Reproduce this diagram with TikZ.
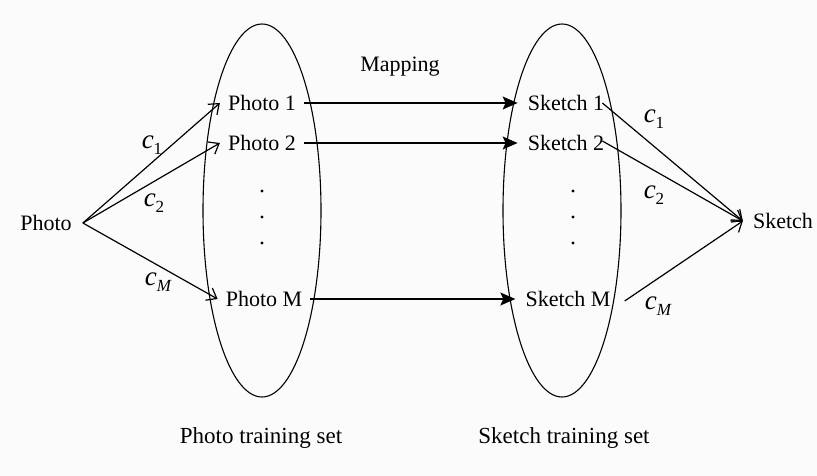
\documentclass[tikz,border=0pt]{standalone}
\usepackage{fontspec}
\setmainfont{Liberation Serif}
\usetikzlibrary{arrows.meta,shapes.geometric}
\definecolor{bg}{RGB}{251,251,251}
\tikzset{
  lbl/.style={inner sep=0pt, font=\fontsize{22}{26}\selectfont},
  biglbl/.style={inner sep=0pt, font=\fontsize{23}{27}\selectfont},
  cl/.style={inner sep=0pt, font=\fontsize{27}{30}\selectfont},
  setell/.style={draw, ellipse, line width=1.1pt, minimum width=118pt, minimum height=373pt, inner sep=0pt},
  wline/.style={line width=1.2pt},
  openarr/.style={wline, -{Straight Barb[length=9pt,width=14pt,line width=1.2pt]}},
  filarr/.style={wline, -{Stealth[length=15pt,width=13pt,inset=3pt]}},
  dotn/.style={circle, fill=black, inner sep=0pt, minimum size=3.4pt}
}
\newcommand{\cw}[1]{{\itshape c}\raisebox{-0.5ex}{\fontsize{17}{19}\selectfont #1}}
\begin{document}
\begin{tikzpicture}[x=1pt,y=-1pt]
\fill[bg] (0,0) rectangle (817,476);
\useasboundingbox (0,0) rectangle (817,476);

\node[setell] (E1) at (262,210.5) {};
\node[setell] (E2) at (562,210.5) {};

\node[lbl] (photo) at (46,223) {Photo};
\node[lbl] (p1) at (262,103) {Photo 1};
\node[lbl] (p2) at (262,143) {Photo 2};
\node[lbl] (pM) at (264,299) {Photo M};
\node[lbl] (s1) at (566,103) {Sketch 1};
\node[lbl] (s2) at (566,143) {Sketch 2};
\node[lbl] (sM) at (568,299) {Sketch M};
\node[lbl] (sk) at (783,221) {Sketch};
\node[lbl] (map) at (400,67) {Mapping};
\node[biglbl] (pts) at (261,438) {Photo training set};
\node[biglbl] (sts) at (564,438) {Sketch training set};

\node[cl] (c1l) at (152,145) {\cw{1}};
\node[cl] (c2l) at (154,203) {\cw{2}};
\node[cl] (cMl) at (158,282) {\cw{\itshape M}};
\node[cl] (c1r) at (654,119) {\cw{1}};
\node[cl] (c2r) at (654,195) {\cw{2}};
\node[cl] (cMr) at (658,306) {\cw{\itshape M}};

\foreach \yy/\nm in {191/a,217/b,243/c}{
  \node[dotn] (ld\nm) at (262,\yy) {};
  \node[dotn] (rd\nm) at (573,\yy) {};
}

\draw[openarr] ([xshift=11pt]photo.east) -- ([xshift=-8pt]p1.west);
\draw[openarr] ([xshift=11pt]photo.east) -- ([xshift=-8pt]p2.west);
\draw[openarr] ([xshift=11pt]photo.east) -- ([xshift=-8pt]pM.west);

\draw[filarr] ([xshift=8pt]p1.east) -- ([xshift=-10pt]s1.west);
\draw[filarr] ([xshift=8pt]p2.east) -- ([xshift=-10pt]s2.west);
\draw[filarr] ([xshift=8pt]pM.east) -- ([xshift=-10pt]sM.west);

\draw[openarr] ([xshift=-2pt]s1.east) -- ([xshift=-10pt]sk.west);
\draw[openarr] ([xshift=-2pt,yshift=2pt]s2.east) -- ([xshift=-10pt]sk.west);
\draw[openarr] ([xshift=14pt,yshift=-2pt]sM.east) -- ([xshift=-10pt]sk.west);
\end{tikzpicture}
\end{document}
